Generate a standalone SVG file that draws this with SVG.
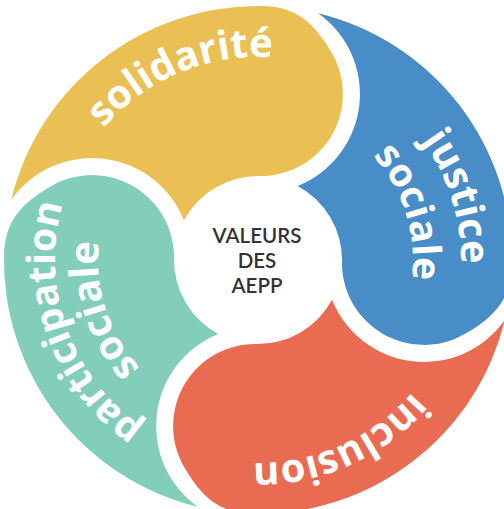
<svg xmlns="http://www.w3.org/2000/svg" width="504" height="509" viewBox="0 0 504 509">
<style>
.w{font-family:"Open Sans","Liberation Sans",sans-serif;font-weight:700;font-size:40px;fill:#fff;text-anchor:middle}
.c{font-family:Lato,"Open Sans","Liberation Sans",sans-serif;font-weight:600;font-size:20.5px;fill:#333;text-anchor:middle}
</style>
<defs>
<path id="petal" d="M-247.8,-55.8 A254,254 0 0 1 0,-254 C35,-254 53.5,-236.7 71,-207 A82,82 0 0 1 0,-84 A84,84 0 0 0 -74.73,-38.36 A99,99 0 0 0 -247.8,-55.8 Z"/>
<path id="r203" d="M258,463 A203,203 0 1 1 258,57 A203,203 0 1 1 258,463"/>
<path id="r160" d="M258,420 A160,160 0 1 1 258,100 A160,160 0 1 1 258,420"/>
<path id="r155" d="M258,415 A155,155 0 1 1 258,105 A155,155 0 1 1 258,415"/>
</defs>
<rect width="504" height="509" fill="#fff"/>
<g id="solidarite">
<use href="#petal" fill="#EAC055" transform="translate(258,260) rotate(1)"/>
<g transform="rotate(-22.7 258 260)"><text class="w"><textPath href="#r203" startOffset="50%">solidarité</textPath></text></g>
</g>
<g id="justice-sociale">
<use href="#petal" fill="#488DC7" transform="translate(258,260) rotate(91)"/>
<g transform="rotate(72.5 258 260)"><text class="w"><textPath href="#r203" startOffset="50%">justice</textPath></text></g>
<g transform="rotate(72.5 258 260)"><text class="w" style="font-size:39px"><textPath href="#r155" startOffset="50%">sociale</textPath></text></g>
</g>
<g id="inclusion">
<use href="#petal" fill="#E96C52" transform="translate(258,260) rotate(181)"/>
<g transform="rotate(156 258 260)"><text class="w"><textPath href="#r203" startOffset="50%">inclusion</textPath></text></g>
</g>
<g id="participation-sociale">
<use href="#petal" fill="#82CEBA" transform="translate(258,260) rotate(271)"/>
<g transform="rotate(250.2 258 260)"><text class="w" style="font-size:39px"><textPath href="#r203" startOffset="50%">participation</textPath></text></g>
<g transform="rotate(252 258 260)"><text class="w"><textPath href="#r160" startOffset="50%">sociale</textPath></text></g>
</g>
<g id="centre">
<text class="c"><tspan x="257" y="243">VALEURS</tspan><tspan x="257" y="268">DES</tspan><tspan x="257" y="293">AEPP</tspan></text>
</g>
</svg>
